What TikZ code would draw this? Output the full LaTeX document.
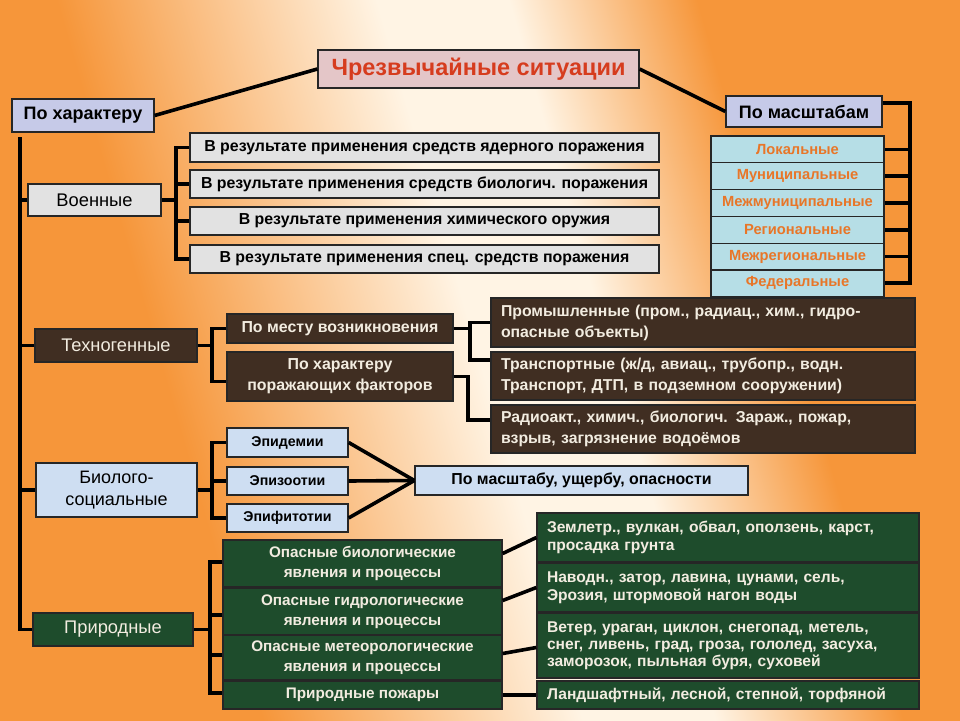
\documentclass[tikz,border=0pt]{standalone}
\usepackage{fontspec}
\setmainfont{Liberation Sans}
\definecolor{bgor}{RGB}{246,150,58}
\definecolor{bgcr}{RGB}{255,244,228}
\definecolor{lav}{RGB}{198,202,232}
\definecolor{pinkb}{RGB}{228,198,200}
\definecolor{marble}{RGB}{226,226,226}
\definecolor{brownb}{RGB}{64,46,34}
\definecolor{bluebx}{RGB}{206,222,242}
\definecolor{greenb}{RGB}{30,76,44}
\definecolor{cyanb}{RGB}{182,222,230}
\definecolor{scaletxt}{RGB}{232,118,40}
\definecolor{titred}{RGB}{214,60,30}
\definecolor{lighttxt}{RGB}{242,236,224}
\pgfdeclarehorizontalshading{bgband}{100bp}{color(0bp)=(bgor); color(25bp)=(bgor); color(33bp)=(bgor); color(50bp)=(bgcr); color(57bp)=(bgcr); color(67bp)=(bgor); color(75bp)=(bgor); color(100bp)=(bgor)}
\begin{document}
\begin{tikzpicture}[x=1pt,y=-1pt,
  box/.style={draw=black!85, line width=1.3pt, inner sep=2pt, align=center},
  titlebox/.style={box, fill=pinkb, text=titred, font=\bfseries\fontsize{23.5}{26}\selectfont},
  lavbox/.style={box, fill=lav, font=\bfseries\fontsize{18}{20}\selectfont},
  scalebox/.style={box, fill=cyanb, text=scaletxt, minimum width=173, minimum height=26.8, font=\bfseries\fontsize{14.7}{16}\selectfont},
  catbox/.style={box, font=\fontsize{18.3}{21}\selectfont},
  milbox/.style={box, fill=marble, minimum width=469, minimum height=28, font=\bfseries\fontsize{15.9}{17}\selectfont},
  brbox/.style={box, fill=brownb, text=lighttxt, font=\bfseries\fontsize{15.9}{19}\selectfont},
  brwide/.style={brbox, minimum width=424, minimum height=48, text width=404, inner xsep=10pt, align=left, font=\bfseries\fontsize{15.8}{21}\selectfont},
  bluebox/.style={box, fill=bluebx, font=\bfseries\fontsize{14.2}{16}\selectfont},
  grbox/.style={box, fill=greenb, text=lighttxt, minimum width=279, font=\bfseries\fontsize{15.3}{19.5}\selectfont},
  grwide/.style={box, fill=greenb, text=lighttxt, minimum width=382, text width=362, inner xsep=10pt, align=left, font=\bfseries\fontsize{15.6}{18}\selectfont},
  conn/.style={line width=3.6pt, black}]
\useasboundingbox (0,0) rectangle (960,720);
\shade[shading=bgband, shading angle=16] (0,0) rectangle (960,720);

% top level
\node[titlebox, minimum width=321, minimum height=38] (title) at (478.5,69) {Чрезвычайные ситуации};
\node[lavbox, minimum width=142, minimum height=33] (char) at (83,115.5) {По характеру};
\node[lavbox, minimum width=156, minimum height=31] (scale) at (804,111.5) {По масштабам};

% scale rows
\node[scalebox] (s1) at (797.5,149.4) {Локальные};
\node[scalebox] (s2) at (797.5,176.2) {Муниципальные};
\node[scalebox] (s3) at (797.5,203.0) {Межмуниципальные};
\node[scalebox] (s4) at (797.5,229.8) {Региональные};
\node[scalebox] (s5) at (797.5,256.6) {Межрегиональные};
\node[scalebox] (s6) at (797.5,283.4) {Федеральные};

% military
\node[catbox, fill=marble, minimum width=133, minimum height=32] (voen) at (94.5,200) {Военные};
\node[milbox, minimum height=29] (m1) at (424.5,147.5) {В результате применения средств ядерного поражения};
\node[milbox] (m2) at (424.5,184) {В результате применения средств биологич. поражения};
\node[milbox] (m3) at (424.5,221) {В результате применения химического оружия};
\node[milbox] (m4) at (424.5,259) {В результате применения спец. средств поражения};

% technogenic
\node[catbox, fill=brownb, text=lighttxt, minimum width=162, minimum height=33] (tech) at (116,345.5) {Техногенные};
\node[brbox, minimum width=226, minimum height=29] (mesto) at (340,328.5) {По месту возникновения};
\node[brbox, minimum width=226, minimum height=49, font=\bfseries\fontsize{15.9}{21}\selectfont] (harfak) at (340,376.5) {По характеру\\поражающих факторов};
\node[brwide, minimum height=49] (prom) at (703,322.5) {Промышленные (пром., радиац., хим., гидро-\\опасные объекты)};
\node[brwide] (trans) at (703,376) {Транспортные (ж/д, авиац., трубопр., водн.\\Транспорт, ДТП, в подземном сооружении)};
\node[brwide] (radio) at (703,429) {Радиоакт., химич., биологич. Зараж., пожар,\\взрыв, загрязнение водоёмов};

% bio-social
\node[catbox, fill=bluebx, minimum width=161, minimum height=54, font=\fontsize{18}{22}\selectfont] (bio) at (116.5,490) {Биолого-\\социальные};
\node[bluebox, minimum width=121, minimum height=29] (epid) at (287.5,442.5) {Эпидемии};
\node[bluebox, minimum width=121, minimum height=28] (epiz) at (287.5,481) {Эпизоотии};
\node[bluebox, minimum width=121, minimum height=28] (epif) at (287.5,518) {Эпифитотии};
\node[bluebox, minimum width=333, minimum height=29, font=\bfseries\fontsize{15.9}{17}\selectfont] (masht) at (581.5,480.5) {По масштабу, ущербу, опасности};

% natural
\node[catbox, fill=greenb, text=lighttxt, minimum width=160, minimum height=33] (prir) at (113,629.5) {Природные};
\node[grbox, minimum height=47] (g1) at (362.5,563.5) {Опасные биологические\\явления и процессы};
\node[grbox, minimum height=47] (g2) at (362.5,611.5) {Опасные гидрологические\\явления и процессы};
\node[grbox, minimum height=45] (g3) at (362.5,657.5) {Опасные метеорологические\\явления и процессы};
\node[grbox, minimum height=28] (g4) at (362.5,695) {Природные пожары};
\node[grwide, minimum height=49] (r1) at (728,537.5) {Землетр., вулкан, обвал, оползень, карст,\\просадка грунта};
\node[grwide, minimum height=49] (r2) at (728,587.5) {Наводн., затор, лавина, цунами, сель,\\Эрозия, штормовой нагон воды};
\node[grwide, minimum height=65, font=\bfseries\fontsize{15.6}{17}\selectfont] (r3) at (728,645.5) {Ветер, ураган, циклон, снегопад, метель,\\снег, ливень, град, гроза, гололед, засуха,\\заморозок, пыльная буря, суховей};
\node[grwide, minimum height=28] (r4) at (728,695) {Ландшафтный, лесной, степной, торфяной};

% coordinates for brackets
\coordinate (lt) at (20,137);
\coordinate (sb) at (910,103);
\coordinate (sbb) at (910,283);
\coordinate (vb) at (176,0);
\coordinate (tb) at (212,0);
\coordinate (mb) at (470,0);
\coordinate (rb) at (468,420);
\coordinate (bb) at (212,0);
\coordinate (pb) at (210,0);

% connectors: top
\draw[conn] (char.east) -- (title.west);
\draw[conn] (title.east) -- (scale.west);
\draw[conn] (scale.east |- sb) -- (sb) -- (sbb) -- (sbb -| s6.east);
\foreach \s in {s1,s2,s3,s4,s5} \draw[conn] (\s.east) -- (\s.east -| sb);

% main left spine
\draw[conn] (lt) |- (prir.west);
\foreach \c in {voen,tech,bio} \draw[conn] (\c.west) -- (\c.west -| lt);

% military bracket
\draw[conn] (voen.east) -- (voen.east -| vb);
\draw[conn] (m1.west) -- (m1.west -| vb) -- (m4.west -| vb) -- (m4.west);
\draw[conn] (m2.west) -- (m2.west -| vb);
\draw[conn] (m3.west) -- (m3.west -| vb);

% technogenic brackets
\draw[conn] (tech.east) -- (tech.east -| tb);
\draw[conn] (mesto.west) -- (mesto.west -| tb) -- ([yshift=-5pt]harfak.west -| tb) -- ([yshift=-5pt]harfak.west);
\draw[conn] (mesto.east) -- (mesto.east -| mb);
\draw[conn] (prom.west) -- (prom.west -| mb) -- ([yshift=16pt]trans.west -| mb) -- ([yshift=16pt]trans.west);
\draw[conn] (harfak.east) -| (rb) -- (rb -| radio.west);

% bio brackets
\draw[conn] (bio.east) -- (bio.east -| bb);
\draw[conn] (epid.west) -- (epid.west -| bb) -- (epif.west -| bb) -- (epif.west);
\draw[conn] (epiz.west) -- (epiz.west -| bb);
\draw[conn] (epid.east) -- (masht.west);
\draw[conn] (epiz.east) -- (masht.west);
\draw[conn] (epif.east) -- (masht.west);

% natural brackets
\draw[conn] (prir.east) -- (prir.east -| pb);
\draw[conn] ([yshift=1.5pt]g1.west) -- ([yshift=1.5pt]g1.west -| pb) -- ([yshift=2pt]g4.west -| pb) -- ([yshift=2pt]g4.west);
\draw[conn] ([yshift=-3.5pt]g2.west) -- ([yshift=-3.5pt]g2.west -| pb);
\draw[conn] ([yshift=2.5pt]g3.west) -- ([yshift=2.5pt]g3.west -| pb);
\draw[conn] ([yshift=10pt]g1.east) -- (r1.west);
\draw[conn] ([yshift=11pt]g2.east) -- (r2.west);
\draw[conn] ([yshift=4pt]g3.east) -- ([yshift=-2pt]r3.west);
\draw[conn] (g4.east) -- (r4.west);
\end{tikzpicture}
\end{document}
